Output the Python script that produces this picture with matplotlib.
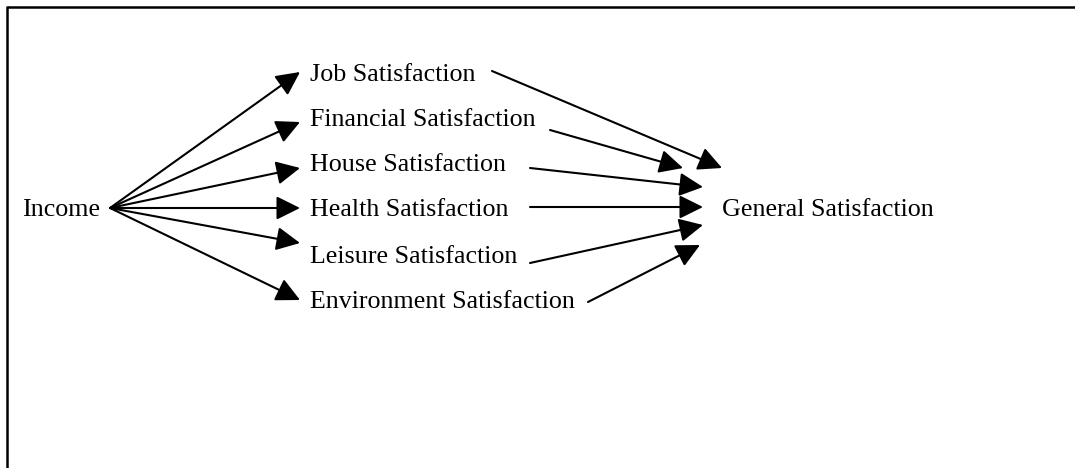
"""Path diagram: income -> domain satisfactions -> general satisfaction."""

import matplotlib.pyplot as plt
from matplotlib.patches import FancyArrowPatch

# Labels
source_label = 'Income'
target_label = 'General Satisfaction'
domains = ['Job Satisfaction', 'Financial Satisfaction', 'House Satisfaction',
           'Health Satisfaction', 'Leisure Satisfaction', 'Environment Satisfaction']

# Layout (pixel coordinates, y downwards)
source_xy = (22, 210)
target_xy = (722, 210)
domain_x = 310
domain_y = [75, 120, 165, 210, 257, 302]
fan_out_start = (110, 208)
fan_out_tip_x = 300
fan_out_tip_y = [72, 122, 168, 208, 243, 300]
fan_in_start = [(492, 71), (550, 130), (530, 168), (530, 207), (530, 263), (588, 302)]
fan_in_tip = [(722, 168), (683, 168), (703, 187), (703, 207), (703, 225), (700, 245)]


def main():
    fig = plt.figure(figsize=(10.75, 4.68), dpi=100)
    ax = fig.add_axes([0, 0, 1, 1])
    ax.set_xlim(0, 1075)
    ax.set_ylim(468, 0)
    ax.axis('off')

    font = dict(family='Liberation Serif', fontsize=18.7, color='black')

    # frame (only top and left edges visible in the crop)
    ax.plot([7, 1075], [7, 7], color='black', lw=1.8, solid_capstyle='butt')
    ax.plot([7, 7], [6, 468], color='black', lw=1.8, solid_capstyle='butt')

    ax.text(source_xy[0], source_xy[1], source_label, ha='left', va='center', **font)
    ax.text(target_xy[0], target_xy[1], target_label, ha='left', va='center', **font)
    for name, y in zip(domains, domain_y):
        ax.text(domain_x, y, name, ha='left', va='center', **font)

    style = '-|>,head_length=1.45,head_width=0.72'

    for ty in fan_out_tip_y:
        ax.add_patch(FancyArrowPatch(fan_out_start, (fan_out_tip_x, ty), arrowstyle=style,
                                     mutation_scale=10, lw=1.5, color='black',
                                     shrinkA=0, shrinkB=0))

    for start, tip in zip(fan_in_start, fan_in_tip):
        ax.add_patch(FancyArrowPatch(start, tip, arrowstyle=style,
                                     mutation_scale=10, lw=1.5, color='black',
                                     shrinkA=0, shrinkB=0))

    fig.savefig('out.png', dpi=100, facecolor='white')
    plt.close(fig)


if __name__ == '__main__':
    main()
